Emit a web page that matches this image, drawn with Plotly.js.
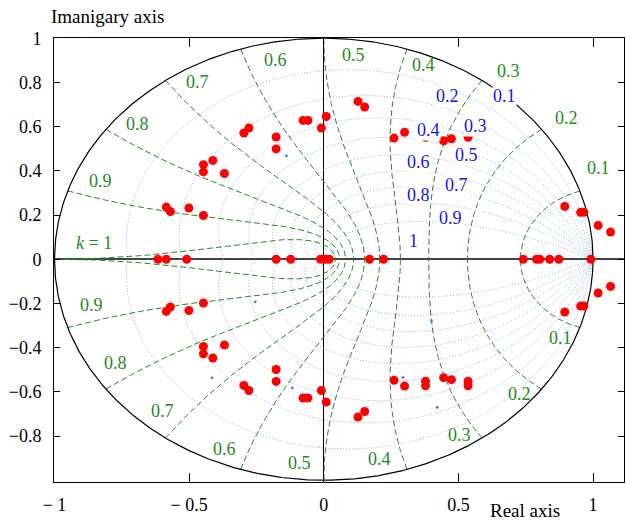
<!DOCTYPE html>
<html><head><meta charset="utf-8">
<script src="https://cdn.plot.ly/plotly-3.0.1.min.js"></script>
<style>html,body{margin:0;padding:0;background:#fff}</style>
</head><body><div id="chart" style="width:627px;height:520px"></div>
<script>
// Poles in upper half plane (conjugates are drawn too)
const upperRe = [-0.585,-0.570,-0.501,-0.447,-0.412,-0.447,-0.447,-0.369,-0.278,-0.297,-0.177,-0.177,-0.077,-0.059,0.009,-0.009,0.127,0.152,0.261,0.300,0.378,0.378,0.445,0.474,0.536,0.536,0.895,0.954,0.966,1.019,1.065];
const upperIm = [0.236,0.216,0.232,0.198,0.447,0.428,0.395,0.388,0.594,0.571,0.553,0.499,0.628,0.628,0.646,0.594,0.714,0.689,0.548,0.574,0.573,0.552,0.536,0.545,0.573,0.552,0.239,0.212,0.212,0.153,0.123];
// Poles on the real axis
const realRe = [-0.616,-0.585,-0.509,-0.177,-0.123,-0.012,0.005,0.020,0.170,0.222,0.741,0.790,0.802,0.839,0.873,0.992];
// small blue points
const dotRe = [-0.139,-0.255,-0.415,-0.117,0.400,0.294,0.421];
const dotIm = [0.468,-0.192,-0.536,-0.581,-0.278,-0.535,-0.670];
// grid families
const kValues = [0.1,0.2,0.3,0.4,0.5,0.6,0.7,0.8,0.9,1.0];
const zetaValues = [0.1,0.2,0.3,0.4,0.5,0.6,0.7,0.8,0.9];
// green labels (natural frequency k)
const kLabelText = ['0.1','0.2','0.3','0.4','0.5','0.6','0.7','0.8','0.9','<i>k</i> = 1','0.9','0.8','0.7','0.6','0.5','0.4','0.3','0.2','0.1'];
const kLabelX = [1.019,0.901,0.685,0.371,0.109,-0.180,-0.468,-0.691,-0.831,-0.852,-0.864,-0.774,-0.600,-0.369,-0.090,0.207,0.505,0.728,0.880];
const kLabelY = [0.413,0.639,0.850,0.877,0.925,0.903,0.800,0.613,0.352,0.073,-0.206,-0.470,-0.686,-0.859,-0.922,-0.904,-0.794,-0.609,-0.357];
// blue labels (damping ratio)
const zLabelText = ['0.2','0.1','0.4','0.3','0.6','0.5','0.7','0.8','0.9','1'];
const zLabelX = [0.459,0.670,0.390,0.564,0.350,0.530,0.493,0.350,0.471,0.332];
const zLabelY = [0.737,0.737,0.586,0.601,0.440,0.473,0.337,0.292,0.186,0.081];
// ticks
const xTickVals = [-1,-0.5,0,0.5,1];
const xTickText = ['\u2212 1','\u2212 0.5','0','0.5','1'];
const yTickVals = [-0.8,-0.6,-0.4,-0.2,0,0.2,0.4,0.6,0.8,1];
const yTickText = ['\u22120.8','\u22120.6','\u22120.4','\u22120.2','0','0.2','0.4','0.6','0.8','1'];

const FONT = '"Liberation Serif", "Times New Roman", serif';
const traces = [];

// blue constant damping spirals
{
  const xs=[], ys=[];
  zetaValues.forEach(z=>{
    const a = z/Math.sqrt(1-z*z);
    [1,-1].forEach(s=>{
      for(let i=0;i<=300;i++){
        const th = Math.PI*i/300;
        const r = Math.exp(-a*th);
        xs.push(r*Math.cos(th)); ys.push(s*r*Math.sin(th));
      }
      xs.push(null); ys.push(null);
    });
  });
  traces.push({x:xs,y:ys,mode:'lines',line:{color:'rgb(140,175,245)',width:1,dash:'1px,2px'},hoverinfo:'skip'});
}
// green constant natural frequency curves
{
  const xs=[], ys=[];
  kValues.forEach(k=>{
    const wn = k*Math.PI;
    [1,-1].forEach(s=>{
      for(let i=0;i<=300;i++){
        const t = (Math.PI/2)*i/300;
        const zeta = Math.sin(t);
        const r = Math.exp(-zeta*wn);
        const ang = wn*Math.cos(t);
        xs.push(r*Math.cos(ang)); ys.push(s*r*Math.sin(ang));
      }
      xs.push(null); ys.push(null);
    });
  });
  traces.push({x:xs,y:ys,mode:'lines',line:{color:'rgb(34,139,34)',width:1,dash:'6px,3px'},hoverinfo:'skip'});
}
// unit circle
{
  const xs=[], ys=[];
  for(let i=0;i<=720;i++){const t=2*Math.PI*i/720; xs.push(Math.cos(t)); ys.push(Math.sin(t));}
  traces.push({x:xs,y:ys,mode:'lines',line:{color:'black',width:1.2},hoverinfo:'skip'});
}
// small blue dots
traces.push({x:dotRe,y:dotIm,mode:'markers',marker:{color:'rgb(80,130,255)',size:3},hoverinfo:'skip'});
// poles
{
  const px = upperRe.concat(upperRe, realRe);
  const py = upperIm.concat(upperIm.map(v=>-v), realRe.map(()=>0));
  traces.push({x:px,y:py,mode:'markers',marker:{color:'rgb(255,0,0)',size:9,line:{width:0}},hoverinfo:'skip'});
}

const annotations = [];
kLabelText.forEach((t,i)=>annotations.push({x:kLabelX[i],y:kLabelY[i],xref:'x',yref:'y',text:t,showarrow:false,
  font:{family:FONT,size:18,color:'rgb(34,139,34)'},xanchor:'center',yanchor:'middle'}));
zLabelText.forEach((t,i)=>annotations.push({x:zLabelX[i],y:zLabelY[i],xref:'x',yref:'y',text:t,showarrow:false,
  font:{family:FONT,size:18,color:'rgb(20,20,235)'},xanchor:'center',yanchor:'middle',bgcolor:'white',borderpad:0}));
annotations.push({x:0.093,y:1.0495,xref:'paper',yref:'paper',text:'Imanigary axis',showarrow:false,
  font:{family:FONT,size:19,color:'black'},xanchor:'center',yanchor:'middle'});
annotations.push({x:0.826,y:-0.065,xref:'paper',yref:'paper',text:'Real axis',showarrow:false,
  font:{family:FONT,size:19,color:'black'},xanchor:'center',yanchor:'middle'});

const layout = {
  width:627,height:520,
  margin:{l:54,r:3,t:38,b:38},
  paper_bgcolor:'white',plot_bgcolor:'white',
  showlegend:false,
  font:{family:FONT,size:18,color:'black'},
  xaxis:{range:[-1.002,1.115],tickvals:xTickVals,ticktext:xTickText,ticks:'inside',ticklen:9,tickcolor:'black',
    showline:true,linecolor:'black',linewidth:1,mirror:'ticks',showgrid:false,
    zeroline:true,zerolinecolor:'black',zerolinewidth:1.2,ticklabelstandoff:6,
    tickfont:{family:FONT,size:18,color:'black'}},
  yaxis:{range:[-1.008,1.001],tickvals:yTickVals,ticktext:yTickText,ticks:'inside',ticklen:6,tickcolor:'black',
    showline:true,linecolor:'black',linewidth:1,mirror:'ticks',showgrid:false,
    zeroline:true,zerolinecolor:'#444',zerolinewidth:1.8,ticklabelstandoff:8,
    tickfont:{family:FONT,size:18,color:'black'}},
  annotations:annotations
};
Plotly.newPlot('chart',traces,layout,{staticPlot:true,displayModeBar:false});
</script></body></html>
